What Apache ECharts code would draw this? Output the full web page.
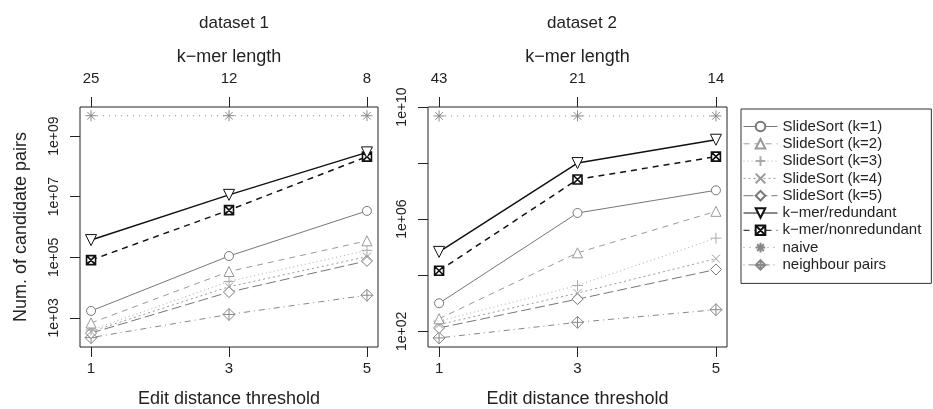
<!DOCTYPE html>
<html>
<head>
<meta charset="utf-8">
<script src="https://cdn.jsdelivr.net/npm/echarts@6/dist/echarts.min.js"></script>
<style>
  html, body { margin: 0; padding: 0; background: #fff; }
  #chart { width: 933px; height: 409px; }
</style>
</head>
<body>
<div id="chart"></div>
<script>
// edit distance thresholds (bottom axis) and matching k-mer lengths (top axis)
const thresholds = [1, 3, 5];
const kmerLen1 = ['25', '12', '8'];
const kmerLen2 = ['43', '21', '14'];

const methods = [
  'SlideSort (k=1)', 'SlideSort (k=2)', 'SlideSort (k=3)', 'SlideSort (k=4)',
  'SlideSort (k=5)', 'k\u2212mer/redundant', 'k\u2212mer/nonredundant', 'naive', 'neighbour pairs'
];

// candidate pairs, dataset 1 (same order as methods)
const d1_k1 = [1.7e3, 1.1e5, 3.4e6];
const d1_k2 = [680, 3.4e4, 3.5e5];
const d1_k3 = [400, 1.6e4, 1.7e5];
const d1_k4 = [355, 1.07e4, 1.05e5];
const d1_k5 = [316, 7.1e3, 7.6e4];
const d1_red = [3.7e5, 1.15e7, 2.9e8];
const d1_nonred = [8.1e4, 3.6e6, 2.1e8];
const d1_naive = [4.7e9, 4.7e9, 4.7e9];
const d1_neigh = [224, 1.3e3, 5.6e3];

// candidate pairs, dataset 2
const d2_k1 = [1.0e3, 1.66e6, 1.07e7];
const d2_k2 = [280, 6.3e4, 1.9e6];
const d2_k3 = [230, 4.3e3, 2.1e5];
const d2_k4 = [174, 2.3e3, 3.9e4];
const d2_k5 = [132, 1.4e3, 1.6e4];
const d2_red = [6.8e4, 1.0e8, 6.8e8];
const d2_nonred = [1.45e4, 2.6e7, 1.7e8];
const d2_naive = [4.8e9, 4.8e9, 4.8e9];
const d2_neigh = [58, 209, 590];

// log10 tick positions
const yTicks1 = [3, 5, 7, 9];
const yTicks2 = [2, 4, 6, 8, 10];
const yLabels2 = [2, 6, 10];

const set1 = [d1_k1, d1_k2, d1_k3, d1_k4, d1_k5, d1_red, d1_nonred, d1_naive, d1_neigh];
const set2 = [d2_k1, d2_k2, d2_k3, d2_k4, d2_k5, d2_red, d2_nonred, d2_naive, d2_neigh];

const font = 'Liberation Sans, Arial, sans-serif';
const ink = '#222';

// symbol / line look per method
const looks = [
  {symbol: 'circle', size: 9, color: '#777', type: 'solid', width: 1},
  {symbol: 'triangle', size: 10, color: '#999', type: [6, 5], width: 1},
  {symbol: 'path://M5,0L5,10M0,5L10,5', size: 11, color: '#aaa', type: [1, 3], width: 1},
  {symbol: 'path://M0,0L10,10M10,0L0,10', size: 8, color: '#999', type: [2, 3], width: 1},
  {symbol: 'diamond', size: 11, color: '#777', type: [10, 4], width: 1},
  {symbol: 'path://M0,0L10,0L5,9Z', size: 11, color: '#111', type: 'solid', width: 1.5},
  {symbol: 'path://M0,0L10,0L10,10L0,10ZM0,0L10,10M10,0L0,10', size: 9, color: '#111', type: [6, 5], width: 1.5},
  {symbol: 'path://M5,0L5,10M0,5L10,5M1.5,1.5L8.5,8.5M8.5,1.5L1.5,8.5', size: 11, color: '#888', type: [1, 5], width: 1},
  {symbol: 'path://M5,0L10,5L5,10L0,5ZM5,0L5,10M0,5L10,5', size: 12, color: '#888', type: [1, 4, 6, 4], width: 1}
];

const expLabel = v => '1e+' + String(v).padStart(2, '0');

const makeSeries = (set, axis) => set.map((vals, i) => ({
  name: methods[i],
  type: 'line',
  xAxisIndex: axis * 2,
  yAxisIndex: axis,
  data: thresholds.map((t, j) => [t, Math.log10(vals[j])]),
  symbol: looks[i].symbol,
  symbolSize: looks[i].size,
  showAllSymbol: true,
  itemStyle: {
    color: '#fff',
    borderColor: looks[i].color,
    borderWidth: i === 6 ? 1.6 : 1
  },
  lineStyle: {color: looks[i].color, type: looks[i].type, width: looks[i].width},
  emphasis: {disabled: true},
  animation: false,
  z: 10 - i
}));

const bottomAxis = (grid) => ({
  type: 'value', gridIndex: grid, position: 'bottom',
  min: 0.84, max: 5.16,
  axisLine: {show: false},
  splitLine: {show: false},
  axisTick: {length: 10, customValues: thresholds, lineStyle: {color: ink}},
  axisLabel: {customValues: thresholds, margin: 14, color: ink, fontSize: 15, fontFamily: font},
  name: 'Edit distance threshold', nameLocation: 'middle', nameGap: 43,
  nameTextStyle: {color: ink, fontSize: 18, fontFamily: font}
});

const topAxis = (grid, labels) => ({
  type: 'value', gridIndex: grid, position: 'top',
  min: 0.84, max: 5.16,
  axisLine: {show: false},
  splitLine: {show: false},
  axisTick: {length: 10, customValues: thresholds, lineStyle: {color: ink}},
  axisLabel: {
    customValues: thresholds, margin: 21, color: ink, fontSize: 15, fontFamily: font,
    formatter: v => labels[thresholds.indexOf(v)]
  },
  name: 'k\u2212mer length', nameLocation: 'middle', nameGap: 41,
  nameTextStyle: {color: ink, fontSize: 18, fontFamily: font}
});

const yAxis = (grid, min, max, ticks, labels, name) => ({
  type: 'value', gridIndex: grid,
  min, max,
  axisLine: {show: false},
  splitLine: {show: false},
  axisTick: {length: 10, customValues: ticks, lineStyle: {color: ink}},
  axisLabel: {
    customValues: labels, rotate: 90, margin: 19, color: ink, fontSize: 14, fontFamily: font,
    formatter: expLabel
  },
  name: name, nameLocation: 'middle', nameGap: 50, nameRotate: 90,
  nameTextStyle: {color: ink, fontSize: 18, fontFamily: font}
});

const chart = echarts.init(document.getElementById('chart'), null, {renderer: 'canvas'});

chart.setOption({
  backgroundColor: '#fff',
  animation: false,
  textStyle: {fontFamily: font},
  title: [
    {text: 'dataset 1', left: 229, top: 10, textAlign: 'center',
     textStyle: {color: ink, fontSize: 17, fontWeight: 'normal', fontFamily: font}},
    {text: 'dataset 2', left: 577, top: 10, textAlign: 'center',
     textStyle: {color: ink, fontSize: 17, fontWeight: 'normal', fontFamily: font}}
  ],
  grid: [
    {left: 80, top: 107, width: 298, height: 240, outerBoundsMode: 'none',
     show: true, borderColor: ink, borderWidth: 1},
    {left: 428, top: 107, width: 299, height: 240, outerBoundsMode: 'none',
     show: true, borderColor: ink, borderWidth: 1}
  ],
  xAxis: [
    bottomAxis(0), topAxis(0, kmerLen1),
    bottomAxis(1), topAxis(1, kmerLen2)
  ],
  yAxis: [
    yAxis(0, 2.04, 9.96, yTicks1, yTicks1, 'Num. of candidate pairs'),
    yAxis(1, 1.44, 10.0, yTicks2, yLabels2, '')
  ],
  legend: {
    orient: 'vertical',
    left: 741, top: 109,
    padding: [10, 10, 11, 2],
    itemWidth: 34, itemHeight: 12, itemGap: 2.3,
    borderColor: '#333', borderWidth: 1,
    lineStyle: {width: 1},
    data: methods,
    textStyle: {color: ink, fontSize: 15, fontFamily: font}
  },
  series: makeSeries(set1, 0).concat(makeSeries(set2, 1))
});
</script>
</body>
</html>
